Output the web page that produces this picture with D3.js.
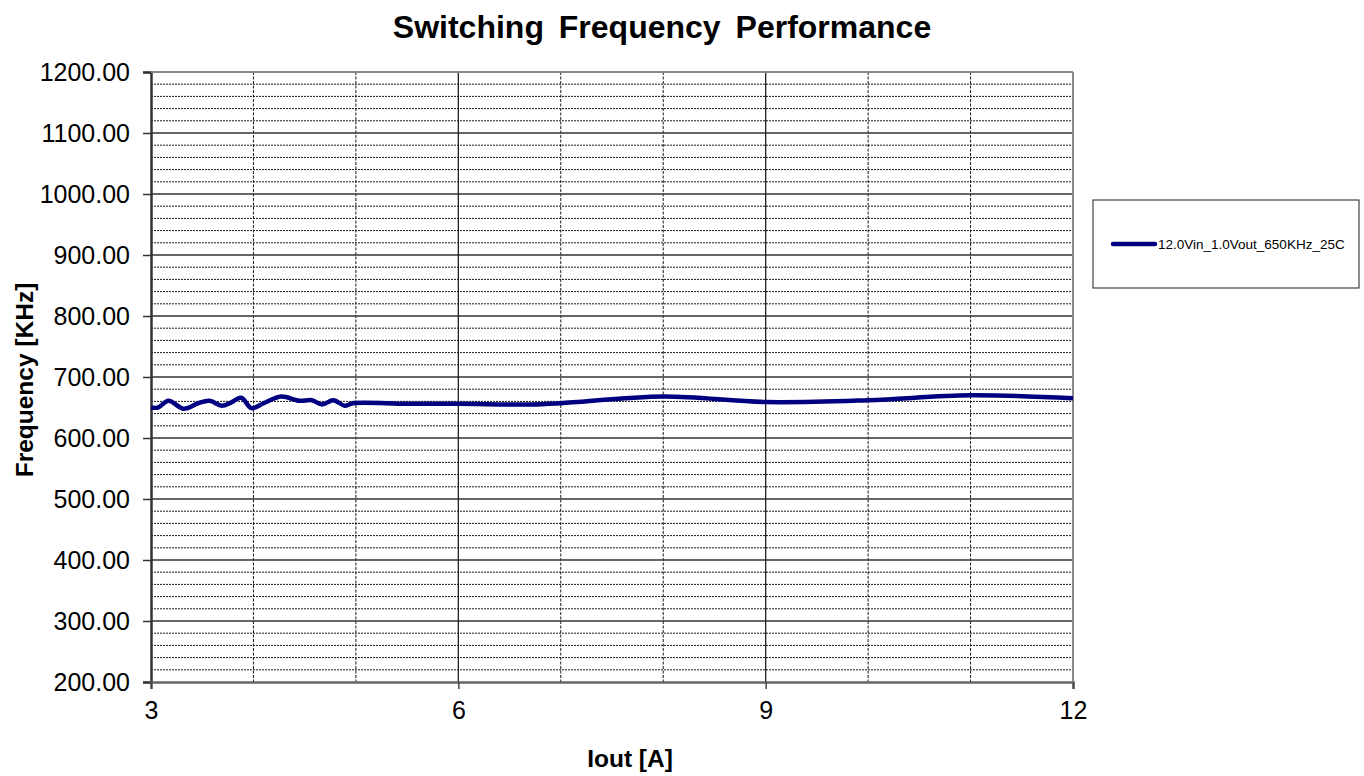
<!DOCTYPE html>
<html>
<head>
<meta charset="utf-8">
<script src="https://cdn.jsdelivr.net/npm/d3@7"></script>
<style>
  body { margin: 0; background: #fff; }
  svg { display: block; font-family: "Liberation Sans", Arial, sans-serif; }
</style>
</head>
<body>
<div id="chart"></div>
<script>
// data
var seriesName = "12.0Vin_1.0Vout_650KHz_25C";
var ioutA = [3.0, 3.07, 3.17, 3.32, 3.46, 3.57, 3.69, 3.78, 3.88, 3.98, 4.1, 4.27, 4.45, 4.57, 4.67, 4.78, 4.89, 4.97, 5.5, 6, 6.7, 7, 8, 9, 10, 11, 12];
var freqKHz = [650, 650, 661, 648, 657, 661, 653, 658, 666, 649, 657, 668, 661, 662, 655, 662, 653, 657, 656, 656, 655, 657, 668, 659, 662, 670, 665];
var xTicks = [3, 6, 9, 12];
var yTicks = [200, 300, 400, 500, 600, 700, 800, 900, 1000, 1100, 1200];

var svgWidth = 1364, svgHeight = 776;
var margin = { top: 72, left: 151, right: 291, bottom: 94 };
var width = svgWidth - margin.left - margin.right;
var height = svgHeight - margin.top - margin.bottom;

var svg = d3.select("#chart").append("svg")
  .attr("width", svgWidth)
  .attr("height", svgHeight);

var chartGroup = svg.append("g")
  .attr("transform", `translate(${margin.left}, ${margin.top})`);

var xScale = d3.scaleLinear().domain([3, 12]).range([0, width]);
var yScale = d3.scaleLinear().domain([200, 1200]).range([height, 0]);

// minor horizontal grid, every 20
var minorY = d3.range(220, 1200, 20).filter(v => v % 100 !== 0);
chartGroup.selectAll(".minor-y").data(minorY).enter().append("line")
  .attr("x1", 0).attr("x2", width)
  .attr("y1", d => yScale(d)).attr("y2", d => yScale(d))
  .attr("stroke", "#1a1a1a").attr("stroke-width", 1)
  .attr("stroke-dasharray", "2,1");

// minor vertical grid, every 1
var minorX = d3.range(4, 12, 1).filter(v => v % 3 !== 0);
chartGroup.selectAll(".minor-x").data(minorX).enter().append("line")
  .attr("y1", 0).attr("y2", height)
  .attr("x1", d => xScale(d)).attr("x2", d => xScale(d))
  .attr("stroke", "#1a1a1a").attr("stroke-width", 1)
  .attr("stroke-dasharray", "3,1.5");

// major grid
chartGroup.selectAll(".major-y").data(yTicks.slice(1)).enter().append("line")
  .attr("x1", 0).attr("x2", width)
  .attr("y1", d => yScale(d)).attr("y2", d => yScale(d))
  .attr("stroke", "#333").attr("stroke-width", 1.3);

chartGroup.selectAll(".major-x").data(xTicks.slice(1)).enter().append("line")
  .attr("y1", 0).attr("y2", height)
  .attr("x1", d => xScale(d)).attr("x2", d => xScale(d))
  .attr("stroke", "#222").attr("stroke-width", 1.3);

// axes
var leftAxis = d3.axisLeft(yScale).tickValues(yTicks).tickFormat(d3.format(".2f"))
  .tickSize(8).tickPadding(13);
var yAxis = chartGroup.append("g").call(leftAxis);
yAxis.select(".domain").attr("stroke", "#333").attr("stroke-width", 2.5);
yAxis.selectAll(".tick line").attr("stroke", "#333").attr("stroke-width", 1.5);
yAxis.selectAll("text").attr("font-size", 25).attr("fill", "#000")
  .attr("font-family", "Liberation Sans, Arial, sans-serif");

var bottomAxis = d3.axisBottom(xScale).tickValues(xTicks).tickSize(7).tickPadding(12);
var xAxis = chartGroup.append("g")
  .attr("transform", `translate(0, ${height})`)
  .call(bottomAxis);
xAxis.select(".domain").attr("stroke", "#666").attr("stroke-width", 2.5);
xAxis.selectAll(".tick line").attr("stroke", "#444").attr("stroke-width", 1.5);
xAxis.selectAll("text").attr("font-size", 25).attr("fill", "#000")
  .attr("font-family", "Liberation Sans, Arial, sans-serif");

// right and top border
chartGroup.append("line").attr("x1", width).attr("x2", width).attr("y1", 0).attr("y2", height)
  .attr("stroke", "#888").attr("stroke-width", 2);
chartGroup.append("line").attr("x1", 0).attr("x2", width).attr("y1", 0).attr("y2", 0)
  .attr("stroke", "#888").attr("stroke-width", 2);

// the series
var points = ioutA.map((x, i) => [x, freqKHz[i]]);
var line = d3.line()
  .x(d => xScale(d[0]))
  .y(d => yScale(d[1]))
  .curve(d3.curveCatmullRom.alpha(0.5));

chartGroup.append("path")
  .datum(points)
  .attr("d", line)
  .attr("fill", "none")
  .attr("stroke", "#000080")
  .attr("stroke-width", 4.5)
  .attr("stroke-linejoin", "round");

// title and axis labels
svg.append("text")
  .attr("x", 662).attr("y", 38)
  .attr("text-anchor", "middle")
  .attr("font-size", 32).attr("font-weight", "bold")
  .attr("word-spacing", 6)
  .text("Switching Frequency Performance");

svg.append("text")
  .attr("transform", "translate(33, 380) rotate(-90)")
  .attr("text-anchor", "middle")
  .attr("font-size", 24.5).attr("font-weight", "bold")
  .text("Frequency [KHz]");

svg.append("text")
  .attr("x", 630).attr("y", 767)
  .attr("text-anchor", "middle")
  .attr("font-size", 24.5).attr("font-weight", "bold")
  .text("Iout [A]");

// legend
var legend = svg.append("g");
legend.append("rect")
  .attr("x", 1093).attr("y", 200).attr("width", 266).attr("height", 88)
  .attr("fill", "#fff").attr("stroke", "#444").attr("stroke-width", 1.2);
legend.append("line")
  .attr("x1", 1113).attr("x2", 1155).attr("y1", 244).attr("y2", 244)
  .attr("stroke", "#000080").attr("stroke-width", 4.5).attr("stroke-linecap", "round");
legend.append("text")
  .attr("x", 1158).attr("y", 249)
  .attr("font-size", 13.5)
  .text(seriesName);
</script>
</body>
</html>
